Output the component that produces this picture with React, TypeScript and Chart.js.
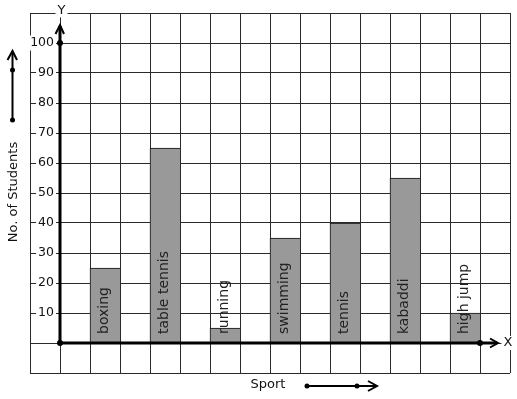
import { useEffect, useRef } from 'react';
import { Chart, registerables } from 'chart.js';

Chart.register(...registerables);

const sports = ['boxing', 'table tennis', 'running', 'swimming', 'tennis', 'kabaddi', 'high jump'];
const students = [25, 65, 5, 35, 40, 55, 10];
// grid column (in grid units from the origin) where each bar is centred
const sportSlots = [1.5, 3.5, 5.5, 7.5, 9.5, 11.5, 13.5];
const yTickValues = [10, 20, 30, 40, 50, 60, 70, 80, 90, 100];
const xTitle = 'Sport';
const yTitle = 'No. of Students';

const FONT = '"DejaVu Sans", sans-serif';
const GRID = '#2a2a2a';

const decorPlugin = {
  id: 'decor',
  afterDatasetsDraw(chart: any) {
    const ctx = chart.ctx;
    const ys = chart.scales.y;
    const meta = chart.getDatasetMeta(0);
    const y0 = ys.getPixelForValue(0);
    ctx.save();
    ctx.font = `14px ${FONT}`;
    ctx.fillStyle = '#222';
    ctx.textAlign = 'left';
    ctx.textBaseline = 'middle';
    meta.data.forEach((bar: any, i: number) => {
      ctx.save();
      ctx.translate(bar.x - 1, y0 - 9);
      ctx.rotate(-Math.PI / 2);
      ctx.fillText(sports[i], 0, 0);
      ctx.restore();
    });
    ctx.restore();
  },
  afterDraw(chart: any) {
    const ctx = chart.ctx;
    const xs = chart.scales.x;
    const ys = chart.scales.y;
    const px = xs.getPixelForValue(0);
    const py = ys.getPixelForValue(0);
    ctx.save();
    ctx.strokeStyle = '#000';
    ctx.fillStyle = '#000';
    ctx.lineCap = 'butt';

    // Y axis
    const yTip = ys.getPixelForValue(106);
    ctx.lineWidth = 3;
    ctx.beginPath();
    ctx.moveTo(px, py);
    ctx.lineTo(px, yTip + 1);
    ctx.stroke();
    ctx.lineWidth = 2;
    ctx.beginPath();
    ctx.moveTo(px - 4.5, yTip + 9);
    ctx.lineTo(px, yTip);
    ctx.lineTo(px + 4, yTip + 9);
    ctx.stroke();

    // X axis
    const xTip = xs.getPixelForValue(14.6);
    ctx.lineWidth = 3;
    ctx.beginPath();
    ctx.moveTo(px, py);
    ctx.lineTo(xTip - 1, py);
    ctx.stroke();
    ctx.lineWidth = 2;
    ctx.beginPath();
    ctx.moveTo(xTip - 8, py - 4.5);
    ctx.lineTo(xTip, py);
    ctx.lineTo(xTip - 8, py + 4.5);
    ctx.stroke();

    // dots
    const dot = (x: number, y: number, r = 3) => {
      ctx.beginPath();
      ctx.arc(x, y, r, 0, Math.PI * 2);
      ctx.fill();
    };
    dot(px, py);
    dot(px, ys.getPixelForValue(100));
    dot(xs.getPixelForValue(14), py);

    // X / Y letters with white background
    ctx.font = `13px ${FONT}`;
    ctx.textAlign = 'center';
    ctx.textBaseline = 'middle';
    const letter = (t: string, x: number, y: number) => {
      const w = ctx.measureText(t).width;
      ctx.fillStyle = '#fff';
      ctx.fillRect(x - w / 2 - 2, y - 7, w + 4, 14);
      ctx.fillStyle = '#111';
      ctx.fillText(t, x, y);
    };
    letter('X', xs.getPixelForValue(14.93), py);
    letter('Y', px + 1.5, ys.getPixelForValue(110.85));

    // axis titles
    ctx.fillStyle = '#111';
    ctx.font = `13px ${FONT}`;
    ctx.save();
    ctx.translate(14, 192);
    ctx.rotate(-Math.PI / 2);
    ctx.textAlign = 'center';
    ctx.textBaseline = 'middle';
    ctx.fillText(yTitle, 0, 0);
    ctx.restore();

    ctx.font = `13px ${FONT}`;
    ctx.textAlign = 'center';
    ctx.textBaseline = 'middle';
    ctx.fillText(xTitle, 268, 385);

    // title arrows
    ctx.fillStyle = '#000';
    ctx.lineWidth = 2;
    ctx.beginPath();
    ctx.moveTo(12.5, 120);
    ctx.lineTo(12.5, 52);
    ctx.stroke();
    ctx.beginPath();
    ctx.moveTo(7.5, 60);
    ctx.lineTo(12.5, 51);
    ctx.lineTo(17, 60);
    ctx.stroke();
    dot(12.5, 120, 2.5);
    dot(12.5, 70, 2.5);
    ctx.beginPath();
    ctx.moveTo(307, 386);
    ctx.lineTo(376, 386);
    ctx.stroke();
    ctx.beginPath();
    ctx.moveTo(368, 381);
    ctx.lineTo(377, 386);
    ctx.lineTo(368, 391);
    ctx.stroke();
    dot(307, 386, 2.5);
    dot(357, 386, 2.5);

    ctx.restore();
  },
};

export default function App() {
  const ref = useRef<HTMLCanvasElement>(null);

  useEffect(() => {
    if (!ref.current) return;
    const chart = new Chart(ref.current, {
      type: 'bar',
      data: {
        datasets: [
          {
            data: students.map((v, i) => ({ x: sportSlots[i], y: v })),
            backgroundColor: '#999999',
            borderColor: '#111',
            borderWidth: { top: 1, left: 1, right: 0, bottom: 0 },
            borderSkipped: false,
            categoryPercentage: 1,
            barPercentage: 1,
          },
        ],
      },
      options: {
        animation: false,
        responsive: false,
        devicePixelRatio: 1,
        layout: { padding: { left: 30, top: 13, right: 7, bottom: 26 } },
        plugins: { legend: { display: false }, tooltip: { enabled: false } },
        scales: {
          x: {
            type: 'linear',
            min: -1,
            max: 15,
            offset: false,
            position: { y: 0 },
            ticks: { display: false, stepSize: 1 },
            grid: { color: GRID, lineWidth: 1, drawTicks: false, offset: false },
            border: { display: false },
          },
          y: {
            type: 'linear',
            min: -10,
            max: 110,
            position: { x: 0 },
            ticks: { display: false, stepSize: 10 },
            grid: { color: GRID, lineWidth: 1, drawTicks: false },
            border: { display: false },
          },
          yl: {
            type: 'linear',
            axis: 'y',
            min: -10,
            max: 110,
            position: { x: -0.2 },
            afterBuildTicks: (s: any) => {
              s.ticks = yTickValues.map((v) => ({ value: v }));
            },
            grid: { display: false, drawTicks: false },
            border: { display: false },
            ticks: {
              z: 1,
              color: '#111',
              font: { family: FONT, size: 12.5 },
              showLabelBackdrop: true,
              backdropColor: '#ffffff',
              backdropPadding: { top: 0, bottom: 0, left: 2, right: 2 },
            },
          },
        } as any,
      },
      plugins: [decorPlugin],
    });
    return () => chart.destroy();
  }, []);

  return (
    <div style={{ position: 'absolute', left: 0, top: 0, width: 517, height: 399, background: '#fff' }}>
      <canvas ref={ref} width={517} height={399} />
    </div>
  );
}
